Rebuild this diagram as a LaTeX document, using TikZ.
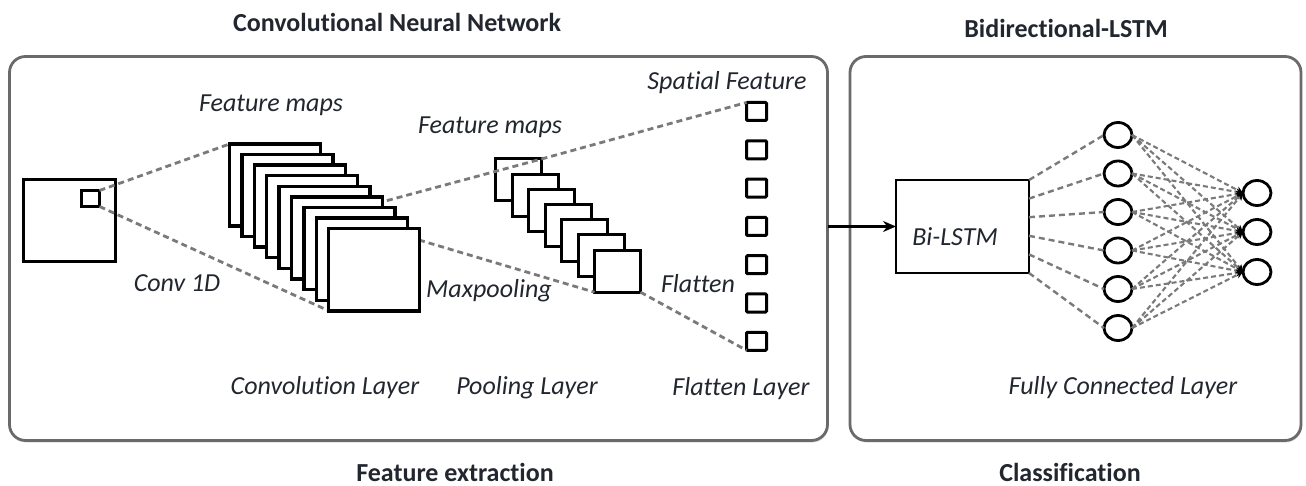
\documentclass[tikz,border=0pt]{standalone}
\usepackage{fontspec}
\setmainfont{Carlito}[Ligatures={NoCommon}]
\usetikzlibrary{calc,backgrounds,arrows.meta,shapes.geometric,shadows}
\definecolor{txt}{HTML}{22262F}
\definecolor{frame}{HTML}{6A6A6A}
\definecolor{dashc}{HTML}{7A7A7A}
\begin{document}
\begin{tikzpicture}[x=1pt,y=-1pt,
  panel/.style={draw=frame, line width=2.8pt, rounded corners=16pt, fill=white,
    drop shadow={opacity=0.25, shadow xshift=1pt, shadow yshift=-2pt}, inner sep=0, outer sep=0},
  title/.style={font=\bfseries\fontsize{26}{30}\selectfont, text=txt, inner sep=0},
  lab/.style={font=\itshape\fontsize{26}{30}\selectfont, text=txt, inner sep=0},
  cmap/.style={draw=black, line width=3.4pt, fill=white, minimum width=91pt, minimum height=82pt, inner sep=0, outer sep=0},
  pmap/.style={draw=black, line width=3pt, fill=white, minimum width=46pt, minimum height=42pt, inner sep=0, outer sep=0},
  fsq/.style={draw=black, line width=3pt, fill=white, rounded corners=1pt, minimum width=20pt, minimum height=18pt, inner sep=0, outer sep=0},
  neuron/.style={ellipse, draw=black, line width=2.8pt, fill=white, minimum width=28pt, minimum height=25pt, inner sep=0, outer sep=0},
  dline/.style={draw=dashc, line width=2.8pt, dash pattern=on 6pt off 4pt},
  fcline/.style={draw=dashc, line width=2.1pt, dash pattern=on 5pt off 3pt, -{Stealth[length=7pt,width=7pt,color=black]}},
  arrowmain/.style={draw=black, line width=2.8pt, -{Stealth[length=13pt,width=11pt]}}
]
\useasboundingbox (0,0) rectangle (1306,486);

% panels
\node[panel, minimum width=818pt, minimum height=384pt] (L) at (418.5,248.5) {};
\node[panel, minimum width=451pt, minimum height=384pt] (R) at (1075.5,248.5) {};

% titles
\node[title] (tcnn) at (397,22) {Convolutional Neural Network};
\node[title] (tlstm) at (1066,28) {Bidirectional-LSTM};
\node[title] (tfe) at (455,472) {Feature extraction};
\node[title] (tcl) at (1070,472) {Classification};

% input
\node[draw=black, line width=3.2pt, fill=white, minimum width=92pt, minimum height=82pt, inner sep=0, outer sep=0] (in) at (69.5,220.5) {};
\node[draw=black, line width=2.8pt, fill=white, minimum width=18pt, minimum height=16pt, inner sep=0, outer sep=0] (s) at (90.5,198.5) {};

% conv maps
\foreach \i in {1,...,9} {
  \node[cmap] (c\i) at ({275+(\i-1)*12.4},{185+(\i-1)*10.6}) {};
}
% pooling maps
\foreach \i in {1,...,7} {
  \node[pmap] (p\i) at ({518.5+(\i-1)*16.5},{180+(\i-1)*15.2}) {};
}
% flatten squares
\foreach \i in {1,...,7} {
  \node[fsq] (f\i) at ({756.5},{111.5+(\i-1)*38.3}) {};
}

\coordinate (cin) at (300,224);
\coordinate (cout) at (419,240);

% Bi-LSTM
\node[draw=black, line width=2.8pt, fill=white, minimum width=133pt, minimum height=93pt, inner sep=0, outer sep=0] (b) at (962.5,226.5) {};
\node[lab] (tb) at (955,237) {Bi-LSTM};

% neurons
\foreach \i/\y in {1/135,2/173.5,3/212,4/250.5,5/289,6/328} {
  \node[neuron] (h\i) at (1118,\y) {};
}
\foreach \i/\y in {1/193,2/232,3/272} {
  \node[neuron] (o\i) at (1257,\y) {};
}

% labels
\node[lab] (lfm1) at (271,105) {Feature maps};
\node[lab] (lfm2) at (490,127) {Feature maps};
\node[lab] (lsf) at (727,83) {Spatial Feature};
\node[lab] (lconv) at (177,283) {Conv 1D};
\node[lab] (lmax) at (489,291) {Maxpooling};
\node[lab] (lfl) at (698,284) {Flatten};
\node[lab] (lcl) at (325,388) {Convolution Layer};
\node[lab] (lpl) at (527,388) {Pooling Layer};
\node[lab] (lfll) at (741,389) {Flatten Layer};
\node[lab] (lfc) at (1123,388) {Fully Connected Layer};

% dashed connectors
\draw[dline] (s.north east) -- (c1.north west);
\draw[dline] (s.south east) -- (c9.south west);
\draw[dline] (p1.north east) -- (f1.north west);
\draw[dline] (p7.south east) -- (f7.south west);
\draw[dline] (cout) -- (p7.south west);
% upper conv->pool line: hidden inside the stack, maps redrawn over it
\draw[dline] (cin) -- (p1.north east);
\foreach \i in {1,...,9} {
  \node[cmap] (cc\i) at (c\i) {};
}

% Bi-LSTM to hidden
\foreach \i in {1,...,6} {
  \draw[dline, line width=2.4pt] ($(b.north east)!{(\i-1)/5}!(b.south east)$) -- (h\i.west);
}
% hidden to output
\foreach \i in {1,...,6} {
  \foreach \j in {1,2,3} {
    \draw[fcline] (h\i.east) -- (o\j.west);
  }
}

% main arrow
\draw[arrowmain] (L.east |- b.west) -- (b.west);
\end{tikzpicture}
\end{document}
